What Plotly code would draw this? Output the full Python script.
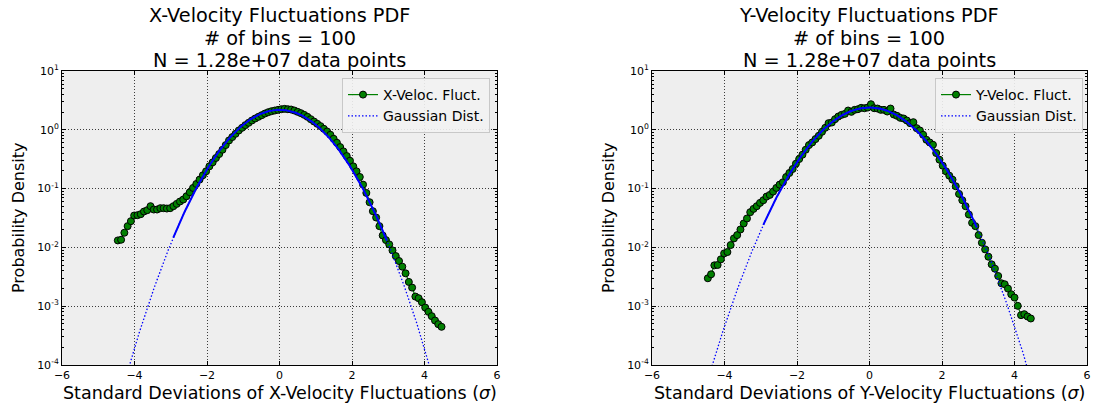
import numpy as np
import plotly.graph_objects as go

# ---------------- data ----------------
n_bins = 100
x_left_centers = np.linspace(-4.46, 4.47, n_bins)
x_right_centers = np.linspace(-4.46, 4.45, n_bins)

pdf_x = [0.01314, 0.01349, 0.01774, 0.02300, 0.02793, 0.03484, 0.03532, 0.03673, 0.04074, 0.04295,
         0.05023, 0.04406, 0.04406, 0.04645, 0.04645, 0.04581, 0.04645, 0.05023, 0.05495, 0.06026,
         0.06516, 0.07413, 0.08670, 0.1026, 0.1199, 0.1422, 0.1683, 0.1968, 0.2393, 0.2793,
         0.3311, 0.3873, 0.4581, 0.5495, 0.6592, 0.7516, 0.8551, 0.9743, 1.081, 1.200,
         1.314, 1.439, 1.556, 1.661, 1.773, 1.891, 1.992, 2.072, 2.127, 2.183,
         2.240, 2.270, 2.240, 2.211, 2.127, 2.019, 1.917, 1.796, 1.661, 1.516,
         1.384, 1.264, 1.154, 1.040, 0.9371, 0.8228, 0.7037, 0.6020, 0.5085, 0.4292,
         0.3579, 0.2983, 0.2390, 0.1967, 0.1577, 0.1169, 0.08445, 0.05866, 0.04127, 0.03225,
         0.02299, 0.01597, 0.01331, 0.01124, 0.008896, 0.007128, 0.005866, 0.004702, 0.003625, 0.002585,
         0.002072, 0.001458, 0.001367, 0.001169, 0.0009493, 0.0008017, 0.0006769, 0.0005714, 0.0004952, 0.0004464]

pdf_y = [0.002985, 0.003486, 0.004955, 0.005023, 0.006266, 0.007907, 0.008337, 0.01096, 0.01422, 0.01619,
         0.02018, 0.02552, 0.03103, 0.03972, 0.04519, 0.05023, 0.05715, 0.06340, 0.07318, 0.07810,
         0.08892, 0.1026, 0.1169, 0.1280, 0.1577, 0.1844, 0.2155, 0.2652, 0.3184, 0.3770,
         0.4581, 0.5495, 0.6097, 0.6950, 0.7915, 0.9250, 1.081, 1.297, 1.331, 1.516,
         1.683, 1.796, 1.867, 2.127, 2.019, 2.183, 2.240, 2.360, 2.329, 2.390,
         2.723, 2.329, 2.299, 2.183, 2.183, 2.045, 2.299, 1.820, 1.727, 1.597,
         1.556, 1.439, 1.297, 1.349, 1.067, 0.9743, 0.8228, 0.6767, 0.6097, 0.5568,
         0.4023, 0.3101, 0.2454, 0.1967, 0.1661, 0.1421, 0.1095, 0.08120, 0.06343, 0.05018,
         0.03625, 0.02618, 0.02299, 0.01618, 0.01200, 0.009249, 0.006947, 0.005150, 0.004348, 0.003266,
         0.002454, 0.002360, 0.001992, 0.001597, 0.001402, 0.001013, 0.0007039, 0.0007315, 0.0006682, 0.0006180]

# Gaussian reference curves (amplitude, sigma)
gauss_left = dict(amp=2.19, sigma=0.926)
gauss_right = dict(amp=2.40, sigma=0.966)
solid_range = (-2.93, 2.97)

title_lines = [["X-Velocity Fluctuations PDF", "# of bins = 100", "N = 1.28e+07 data points"],
               ["Y-Velocity Fluctuations PDF", "# of bins = 100", "N = 1.28e+07 data points"]]
xlabels = ["Standard Deviations of X-Velocity Fluctuations (<i>σ</i>)",
           "Standard Deviations of Y-Velocity Fluctuations (<i>σ</i>)"]
ylabel = "Probability Density"
series_names = ["X-Veloc. Fluct.", "Y-Veloc. Fluct."]
gauss_name = "Gaussian Dist."
x_ticks = [-6, -4, -2, 0, 2, 4, 6]
y_tick_exps = [-4, -3, -2, -1, 0, 1]

# ---------------- figure ----------------
W, H = 1094, 409
fig = go.Figure()

FONT = "DejaVu Sans"
dom_left = (62 / W, 497 / W)
dom_right = (652 / W, 1087 / W)
dom_y = ((H - 365) / H, (H - 71) / H)

xs_fine = np.linspace(-6, 6, 1201)

def gauss(x, p):
    return p["amp"] * np.exp(-x ** 2 / (2 * p["sigma"] ** 2))

panels = [
    (x_left_centers, pdf_x, gauss_left, "x", "y", "legend", series_names[0]),
    (x_right_centers, pdf_y, gauss_right, "x2", "y2", "legend2", series_names[1]),
]

for xc, yv, gp, xa, ya, lg, nm in panels:
    fig.add_trace(go.Scatter(
        x=xc, y=yv, mode="lines+markers", name=nm, xaxis=xa, yaxis=ya, legend=lg,
        line=dict(color="#008000", width=1.2),
        marker=dict(size=7, color="#008000", line=dict(color="black", width=1)),
    ))
    fig.add_trace(go.Scatter(
        x=xs_fine, y=gauss(xs_fine, gp), mode="lines", name=gauss_name,
        xaxis=xa, yaxis=ya, legend=lg,
        line=dict(color="blue", width=1.3, dash="1.5px,2px"),
    ))
    xs_solid = xs_fine[(xs_fine >= solid_range[0]) & (xs_fine <= solid_range[1])]
    fig.add_trace(go.Scatter(
        x=xs_solid, y=gauss(xs_solid, gp), mode="lines", showlegend=False,
        xaxis=xa, yaxis=ya, line=dict(color="blue", width=2),
    ))

minor_vals = [m * 10.0 ** e for e in range(-4, 1) for m in range(2, 10)]
ytickvals = [10.0 ** e for e in y_tick_exps]
yticktext = [f"10<sup>{e}</sup>" for e in y_tick_exps]

axis_common = dict(
    showline=True, linecolor="black", linewidth=1, mirror="ticks",
    ticks="inside", ticklen=4, tickcolor="black",
    showgrid=True, gridcolor="rgba(0,0,0,0.75)", gridwidth=1, griddash="1px,2px",
    zeroline=False, tickfont=dict(family=FONT, size=11, color="black"),
    automargin=False,
)

xaxis_common = dict(axis_common, range=[-6, 6], tickvals=x_ticks)
yaxis_common = dict(axis_common, type="log", range=[-4, 1], tickvals=ytickvals, ticktext=yticktext,
                    minor=dict(tickmode="array", tickvals=minor_vals, ticks="inside", ticklen=2,
                               tickcolor="black", showgrid=False))

legend_common = dict(xanchor="right", yanchor="top",
                     bgcolor="rgba(242,242,242,0.9)", bordercolor="#c8c8c8", borderwidth=1,
                     font=dict(family=FONT, size=14), itemwidth=30, tracegroupgap=0)

fig.update_layout(
    width=W, height=H, autosize=False,
    margin=dict(l=0, r=0, t=0, b=0),
    paper_bgcolor="white", plot_bgcolor="#eeeeee",
    font=dict(family=FONT, color="black"),
    xaxis=dict(xaxis_common, domain=list(dom_left), anchor="y"),
    yaxis=dict(yaxis_common, domain=list(dom_y), anchor="x"),
    xaxis2=dict(xaxis_common, domain=list(dom_right), anchor="y2"),
    yaxis2=dict(yaxis_common, domain=list(dom_y), anchor="x2"),
    legend=dict(legend_common, x=490 / W, y=(H - 78) / H),
    legend2=dict(legend_common, x=1083 / W, y=(H - 78) / H),
    showlegend=True,
)

centers = [(62 + 497) / 2 / W, (652 + 1087) / 2 / W]
ytitle_x = [18 / W, 608 / W]
title_y_px = [15.7, 38.3, 60.7]
for i in range(2):
    for line, ypx in zip(title_lines[i], title_y_px):
        fig.add_annotation(text=line, x=centers[i], y=(H - ypx) / H, xref="paper", yref="paper",
                           xanchor="center", yanchor="middle", showarrow=False,
                           font=dict(family=FONT, size=19.3, color="black"))
    fig.add_annotation(text=xlabels[i], x=centers[i], y=(H - 393) / H, xref="paper", yref="paper",
                       xanchor="center", yanchor="middle", showarrow=False,
                       font=dict(family=FONT, size=17.5, color="black"))
    fig.add_annotation(text=ylabel, x=ytitle_x[i], y=(dom_y[0] + dom_y[1]) / 2,
                       xref="paper", yref="paper", xanchor="center", yanchor="middle",
                       textangle=-90, showarrow=False,
                       font=dict(family=FONT, size=16, color="black"))

fig.write_html("out.html",
               config={"displayModeBar": False},
               post_script="document.body.style.margin='0';document.body.style.overflow='hidden';")
